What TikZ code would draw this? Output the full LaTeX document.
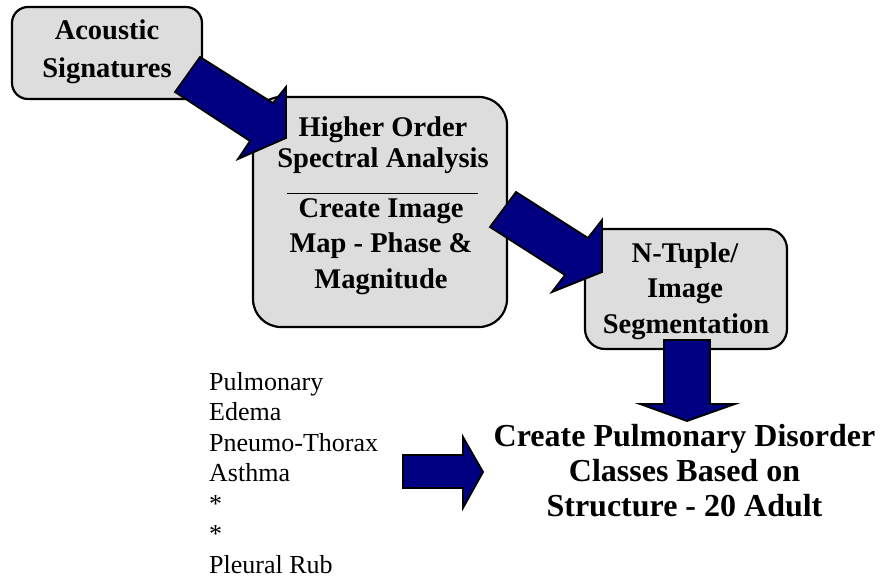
\documentclass[tikz,border=0pt]{standalone}
\usepackage{fontspec}
\setmainfont{Liberation Serif}
\newfontfamily\tnr{Liberation Serif}
\definecolor{boxgray}{HTML}{DDDDDD}
\definecolor{navyfill}{HTML}{000080}
\begin{document}
\begin{tikzpicture}[x=1pt,y=-1pt,
  box/.style={draw=black, line width=2.2pt, fill=boxgray, rounded corners=#1, inner sep=0pt},
  bt/.style={anchor=base, inner sep=0pt, font=\tnr\bfseries\fontsize{28.5}{34}\selectfont},
  big/.style={anchor=base, inner sep=0pt, font=\tnr\bfseries\fontsize{32}{37}\selectfont},
  lt/.style={anchor=base west, inner sep=0pt, font=\tnr\fontsize{26}{30}\selectfont},
  blockarrow/.style={draw=black, line width=1.8pt, fill=navyfill, line join=miter}]
\useasboundingbox (0,0) rectangle (880,577);
% boxes
\node[box=16pt, minimum width=190pt, minimum height=92pt] (sig) at (107,53) {};
\node[box=28pt, minimum width=254pt, minimum height=230pt] (hos) at (380,212) {};
\node[box=20pt, minimum width=202pt, minimum height=120pt] (ntu) at (686,289) {};
% separator in box 2
\draw[line width=0.8pt] (287,193) coordinate (sepl) -- (478,193) coordinate (sepr);
% block arrows
\draw[blockarrow] (200,57) -- (273,103) -- (286,87) -- (286,138) -- (238,159) -- (250,141) -- (175,92) -- cycle;
\draw[blockarrow] (516,192) -- (588,238) -- (602,220) -- (602,272) -- (552,292) -- (565,275) -- (490,227) -- cycle;
\draw[blockarrow] (664,340) -- (710,340) -- (710,404) -- (735,404) -- (687,421) -- (640,404) -- (664,404) -- cycle;
\draw[blockarrow] (403,455) -- (463,455) -- (463,437) -- (483,472) -- (463,508) -- (463,488) -- (403,488) -- cycle;
% box texts
\node[bt] (s1) at (107,40) {Acoustic};
\node[bt] (s2) at (107,78) {Signatures};
\node[bt] (h1) at (383,137) {Higher Order};
\node[bt] (h2) at (383,168) {Spectral Analysis};
\node[bt] (h3) at (381,218) {Create Image};
\node[bt] (h4) at (381,253) {Map - Phase \&};
\node[bt] (h5) at (381,288) {Magnitude};
\node[bt] (n1) at (685,262) {N-Tuple/};
\node[bt] (n2) at (685,297) {Image};
\node[bt] (n3) at (686,333) {Segmentation};
% result text
\node[big] (c1) at (684.5,446.5) {Create Pulmonary Disorder};
\node[big] (c2) at (684.5,481.5) {Classes Based on};
\node[big] (c3) at (684.5,516.5) {Structure - 20 Adult};
% list
\node[lt] (l1) at (209,390) {Pulmonary};
\node[lt] (l2) at (209,420.5) {Edema};
\node[lt] (l3) at (209,451) {Pneumo-Thorax};
\node[lt] (l4) at (209,481.5) {Asthma};
\node[lt] (l5) at (209,512) {*};
\node[lt] (l6) at (209,542.5) {*};
\node[lt] (l7) at (209,573) {Pleural Rub};
\end{tikzpicture}
\end{document}
